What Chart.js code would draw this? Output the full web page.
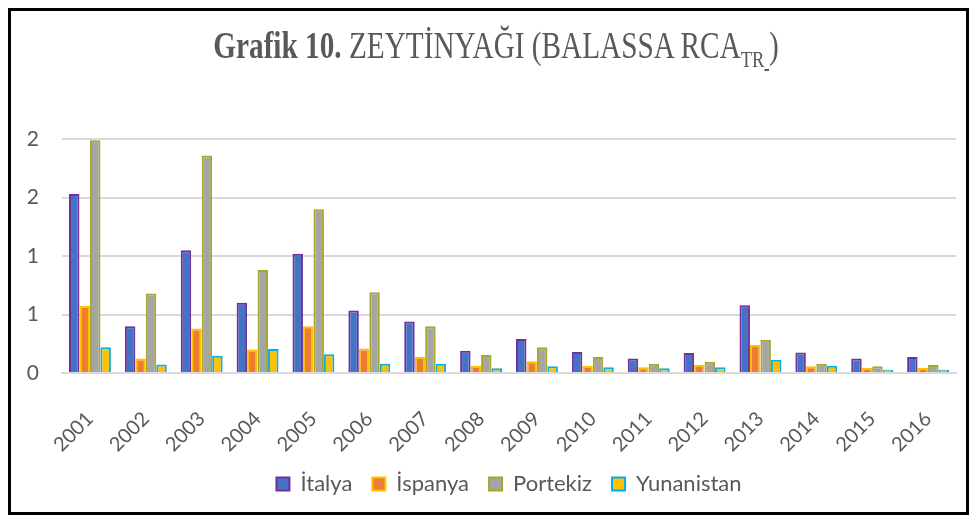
<!DOCTYPE html>
<html lang="tr">
<head>
<meta charset="UTF-8">
<title>Grafik 10. Zeytinyağı</title>
<script src="https://cdn.jsdelivr.net/npm/chart.js"></script>
<style>
  body { margin: 0; background: #fff; }
  .wrap { position: relative; width: 974px; height: 520px; }
  .frame { position: absolute; left: 8px; top: 8px; width: 955px; height: 501px; border: 3px solid #000; pointer-events: none; }
  .title { position: absolute; left: 9px; width: 974px; top: 26px; text-align: center; line-height: 1;
           font-family: "Liberation Serif", "Times New Roman", serif; font-size: 38px; color: #595959;
           transform: scaleX(0.77); transform-origin: 50% 0; white-space: nowrap; }
  .title sub { font-size: 24px; line-height: 1; }
  canvas { position: absolute; left: 0; top: 0; }
</style>
</head>
<body>
<div class="wrap">
  <canvas id="chart" width="974" height="520"></canvas>
  <div class="title"><b>Grafik 10.</b> ZEYTİNYAĞI (BALASSA RCA<sub>TR<u>&nbsp;</u></sub>)</div>
  <div class="frame"></div>
</div>
<script>
const years = ["2001","2002","2003","2004","2005","2006","2007","2008","2009","2010","2011","2012","2013","2014","2015","2016"];
const italya     = [1.53, 0.40, 1.05, 0.60, 1.02, 0.535, 0.44, 0.19, 0.29, 0.18, 0.125, 0.17, 0.58, 0.176, 0.125, 0.137];
const ispanya    = [0.575, 0.125, 0.38, 0.20, 0.40, 0.21, 0.137, 0.062, 0.10, 0.062, 0.05, 0.068, 0.24, 0.057, 0.045, 0.045];
const portekiz   = [1.99, 0.68, 1.86, 0.88, 1.40, 0.69, 0.40, 0.154, 0.22, 0.137, 0.08, 0.097, 0.285, 0.08, 0.057, 0.068];
const yunanistan = [0.22, 0.073, 0.148, 0.205, 0.16, 0.08, 0.08, 0.04, 0.057, 0.05, 0.04, 0.05, 0.114, 0.062, 0.028, 0.028];

const textColor = "#595959";
const font = "Lato, 'Open Sans', sans-serif";

function series(label, data, fill, border) {
  return { label, data, backgroundColor: fill, borderColor: border, borderWidth: 2,
           categoryPercentage: 0.75, barPercentage: 1.0 };
}

new Chart(document.getElementById("chart"), {
  type: "bar",
  data: {
    labels: years,
    datasets: [
      series("İtalya", italya, "#4472c4", "#7030a0"),
      series("İspanya", ispanya, "#ed7d31", "#ffc000"),
      series("Portekiz", portekiz, "#a5a5a5", "#a6a62b"),
      series("Yunanistan", yunanistan, "#ffc000", "#00b0f0")
    ]
  },
  options: {
    responsive: false,
    animation: false,
    layout: { padding: { left: 10, right: 18, top: 139, bottom: 15 } },
    plugins: {
      legend: {
        position: "bottom",
        fullSize: false,
        labels: { color: textColor, font: { family: font, size: 22 }, boxWidth: 13, boxHeight: 13, padding: 20 }
      },
      tooltip: { enabled: false }
    },
    scales: {
      x: {
        grid: { display: false },
        border: { color: "#d9d9d9", width: 2 },
        ticks: { color: textColor, font: { family: font, size: 20 }, maxRotation: 45, minRotation: 45, padding: 26 },
        afterFit(scale) { scale.height = 80; }
      },
      y: {
        min: 0, max: 2,
        border: { display: false },
        grid: { color: "#d9d9d9", lineWidth: 2, drawTicks: false },
        ticks: { stepSize: 0.5, color: textColor, font: { family: font, size: 21 }, padding: 23,
                 callback: v => Math.round(v) },
        afterFit(scale) { scale.width = 52; }
      }
    }
  }
});
</script>
</body>
</html>
